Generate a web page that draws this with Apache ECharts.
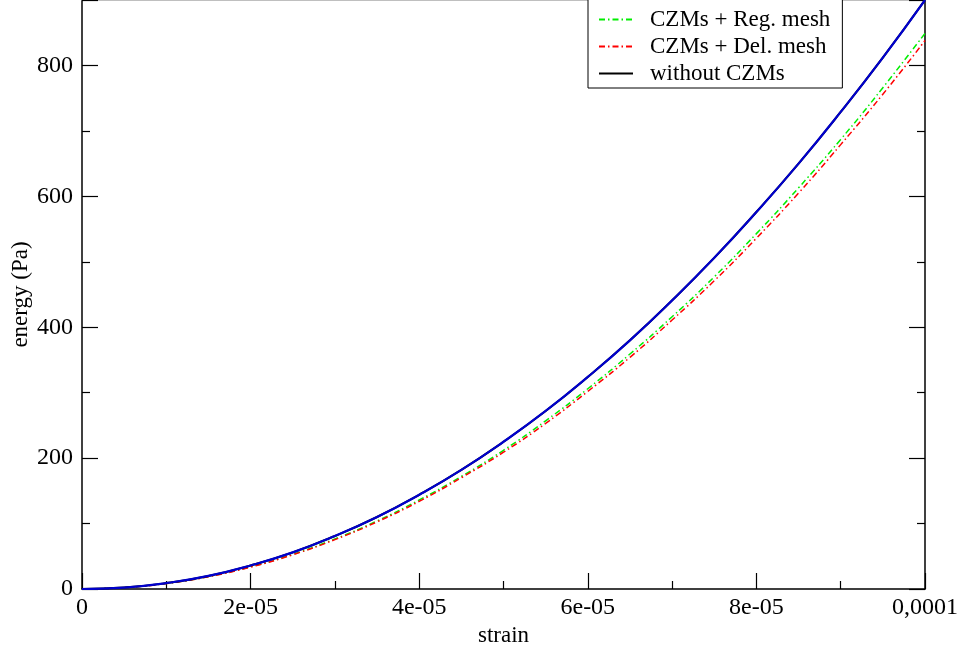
<!DOCTYPE html>
<html>
<head>
<meta charset="utf-8">
<script src="https://cdn.jsdelivr.net/npm/echarts@6/dist/echarts.min.js"></script>
<style>html,body{margin:0;padding:0;background:#fff;}#c{width:965px;height:653px;}</style>
</head>
<body>
<div id="c"></div>
<script>
const strain = [0,0.000005,0.00001,0.000015,0.00002,0.000025,0.00003,0.000035,0.00004,0.000045,0.00005,0.000055,0.00006,0.000065,0.00007,0.000075,0.00008,0.000085,0.00009,0.000095,0.0001];
const withoutCZM = [0,2.2,9,20,36,56,81,110,144,182,225,272,324,380,441,506,576,650,729,812,900];
const czmReg = [0,2.1,8.5,19,34,53,76.5,104,136,172,212,257,306,359,416,477,543,613,687,766,849];
const czmDel = [0,2.1,8.4,18.8,33.5,52.4,75.4,102.6,134,170,209,253,302,354,411,471,536,605,679,756,838];
const xTickLabels = ['0','2e-05','4e-05','6e-05','8e-05','0,0001'];
const yTickLabels = ['0','200','400','600','800'];

const pairs = ys => strain.map((x,i)=>[x,ys[i]]);
const font = 'Liberation Serif';
const axisCommon = {
  axisLine:{show:true,onZero:false,lineStyle:{color:'#000',width:1.5}},
  axisTick:{show:true,inside:true,length:16,lineStyle:{color:'#000',width:1.2}},
  minorTick:{show:true,splitNumber:2,length:8,lineStyle:{color:'#000',width:1.2}},
  splitLine:{show:false},
  minorSplitLine:{show:false}
};
const chart = echarts.init(document.getElementById('c'));
chart.setOption({
  animation:false,
  backgroundColor:'#fff',
  grid:{left:82,right:40,top:0,bottom:64,containLabel:false,outerBoundsMode:'none'},
  legend:{
    orient:'vertical', left:588, top:-1,
    data:['CZMs + Reg. mesh','CZMs + Del. mesh','without CZMs'],
    itemWidth:34, itemHeight:14, itemGap:4,
    padding:[9,12,3,10],
    borderColor:'#000', borderWidth:1, borderRadius:0,
    backgroundColor:'#fff',
    itemStyle:{opacity:0},
    textStyle:{fontFamily:font,fontSize:23,color:'#000',padding:[0,0,0,12]}
  },
  xAxis:[
    Object.assign({type:'value',position:'bottom',min:0,max:0.0001,interval:0.00002,
      name:'strain',nameLocation:'middle',nameGap:35,
      nameTextStyle:{fontFamily:font,fontSize:23,color:'#000'},
      axisLabel:{margin:7,fontFamily:font,fontSize:24,color:'#000',
        formatter:v=>xTickLabels[Math.round(v/0.00002)]}},axisCommon),
    Object.assign({type:'value',position:'top',min:0,max:0.0001,interval:0.00002,
      axisLabel:{show:false}},axisCommon,{axisTick:{show:false},minorTick:{show:false},
      axisLine:{show:true,onZero:false,lineStyle:{color:'#aaa',width:1.5}}})
  ],
  yAxis:[
    Object.assign({type:'value',position:'left',min:0,max:900,interval:200,
      name:'energy (Pa)',nameLocation:'middle',nameGap:50,nameMoveOverlap:false,
      nameTextStyle:{fontFamily:font,fontSize:23,color:'#000'},
      axisLabel:{margin:9,fontFamily:font,fontSize:24,color:'#000',showMaxLabel:false,
        formatter:v=>yTickLabels[Math.round(v/200)]}},axisCommon),
    Object.assign({type:'value',position:'right',min:0,max:900,interval:200,
      axisLabel:{show:false}},axisCommon)
  ],
  series:[
    {name:'CZMs + Reg. mesh',type:'line',data:pairs(czmReg),symbol:'none',smooth:true,
      lineStyle:{color:'#00ee00',width:1.5,type:[6,3,1.5,3]},itemStyle:{color:'#00ee00'}},
    {name:'CZMs + Del. mesh',type:'line',data:pairs(czmDel),symbol:'none',smooth:true,
      lineStyle:{color:'#ff0000',width:1.5,type:[6,3,1.5,3]},itemStyle:{color:'#ff0000'}},
    {name:'without CZMs',type:'line',data:pairs(withoutCZM),symbol:'none',smooth:true,
      lineStyle:{color:'#000',width:2},itemStyle:{color:'#000'}},
    {name:'without CZMs (blue)',type:'line',data:pairs(withoutCZM),symbol:'none',smooth:true,
      lineStyle:{color:'#0000cc',width:2.2},itemStyle:{color:'#0000cc'}}
  ]
});
</script>
</body>
</html>
